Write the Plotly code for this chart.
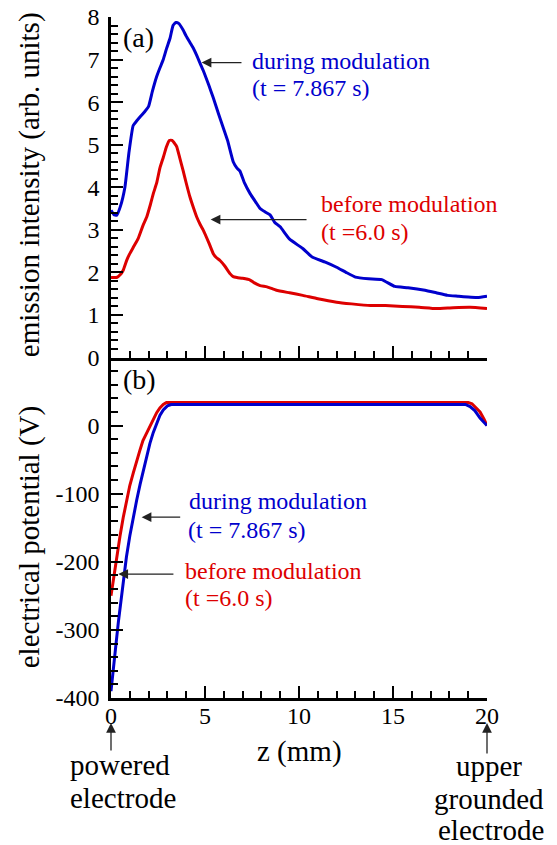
import plotly.graph_objects as go

# ---------------- data ----------------
# (a) emission intensity vs z (mm)
z_int_during = [0.0, 0.15, 0.3, 0.5, 0.74, 0.95, 1.18, 1.35, 1.54, 1.8, 2.0, 2.2, 2.43, 2.6, 2.78,
                2.95, 3.14, 3.3, 3.45, 3.6, 3.83, 4.0, 4.2, 4.4, 4.56, 4.7, 4.9, 5.2, 5.44, 5.7,
                5.97, 6.2, 6.5, 6.7, 6.86, 7.1, 7.4, 7.7, 7.93, 8.2, 8.46, 8.7, 9.0, 9.5, 10.2,
                10.7, 11.4, 12.0, 12.5, 13.0, 13.7, 14.4, 15.1, 15.8, 16.7, 17.3, 17.9, 18.5,
                19.0, 19.5, 20.0]
int_during = [3.46, 3.36, 3.34, 3.55, 4.0, 4.8, 5.45, 5.55, 5.65, 5.78, 5.9, 6.25, 6.6, 6.8, 7.0,
              7.25, 7.5, 7.8, 7.87, 7.85, 7.7, 7.55, 7.4, 7.25, 7.1, 6.95, 6.75, 6.4, 6.1, 5.75,
              5.4, 5.1, 4.6, 4.45, 4.38, 4.1, 3.85, 3.65, 3.5, 3.42, 3.35, 3.18, 3.07, 2.78, 2.56,
              2.36, 2.24, 2.12, 2.0, 1.89, 1.85, 1.83, 1.67, 1.64, 1.58, 1.52, 1.46, 1.44,
              1.42, 1.41, 1.44]

z_int_before = [0.0, 0.3, 0.5, 0.65, 0.85, 1.0, 1.2, 1.45, 1.7, 1.9, 2.1, 2.25, 2.43, 2.6, 2.78,
                2.95, 3.1, 3.25, 3.4, 3.5, 3.65, 3.83, 4.0, 4.2, 4.4, 4.56, 4.75, 4.9, 5.2, 5.44,
                5.6, 5.8, 6.05, 6.33, 6.5, 6.7, 7.0, 7.4, 7.6, 7.93, 8.3, 8.8, 9.5, 10.2, 11.0,
                12.0, 12.8, 13.8, 14.6, 15.5, 16.4, 17.3, 18.2, 19.1, 20.0]
int_before = [1.88, 1.88, 1.95, 2.05, 2.3, 2.44, 2.6, 2.8, 3.1, 3.3, 3.6, 3.85, 4.1, 4.45, 4.7,
              4.95, 5.1, 5.1, 5.02, 4.95, 4.7, 4.4, 4.1, 3.77, 3.5, 3.3, 3.12, 3.0, 2.7, 2.44,
              2.35, 2.28, 2.15, 1.97, 1.9, 1.88, 1.86, 1.82, 1.76, 1.69, 1.66, 1.58, 1.52, 1.46, 1.38,
              1.30, 1.26, 1.22, 1.22, 1.2, 1.18, 1.15, 1.17, 1.18, 1.15]

# (b) electrical potential vs z (mm)
z_pot_during = [0.0, 0.12, 0.25, 0.39, 0.52, 0.65, 0.82, 1.0, 1.18, 1.37, 1.55, 1.72, 1.9, 2.07,
                2.25, 2.43, 2.6, 2.78, 3.0, 3.2, 10.0, 18.85, 19.1, 19.35, 19.63, 19.85, 20.0]
pot_during = [-390, -362, -325, -289, -257, -226, -193, -162, -134, -109, -86, -65, -45, -26,
              -10, 4, 15, 23, 29, 31, 31, 31, 28, 22, 11, 5, 0]

z_pot_before = [0.0, 0.1, 0.21, 0.35, 0.48, 0.65, 0.83, 1.0, 1.19, 1.35, 1.54, 1.7, 1.9, 2.07,
                2.26, 2.43, 2.6, 2.78, 2.95, 10.0, 19.0, 19.2, 19.4, 19.63, 19.85, 20.0]
pot_before = [-250, -230, -211, -186, -162, -135, -109, -88, -69, -52, -36, -22, -11, 0,
              11, 19, 26, 31, 34, 34, 34, 32, 27, 20, 9, 0]

x_ticks = [0, 5, 10, 15, 20]
int_ticks = [0, 1, 2, 3, 4, 5, 6, 7, 8]
pot_ticks = [-400, -300, -200, -100, 0, 100]
pot_ticktext = ["-400", "-300", "-200", "-100", "0", ""]

BLUE = "#0000cc"
RED = "#dd0000"
FONT = "Liberation Serif"

fig = go.Figure()
fig.add_trace(go.Scatter(x=z_int_before, y=int_before, mode="lines", xaxis="x", yaxis="y",
                         line=dict(color=RED, width=3, shape="spline", smoothing=0.4), showlegend=False))
fig.add_trace(go.Scatter(x=z_int_during, y=int_during, mode="lines", xaxis="x", yaxis="y",
                         line=dict(color=BLUE, width=3, shape="spline", smoothing=0.4), showlegend=False))
fig.add_trace(go.Scatter(x=z_pot_before, y=pot_before, mode="lines", xaxis="x2", yaxis="y2",
                         line=dict(color=RED, width=3), showlegend=False))
fig.add_trace(go.Scatter(x=z_pot_during, y=pot_during, mode="lines", xaxis="x2", yaxis="y2",
                         line=dict(color=BLUE, width=3), showlegend=False))

base = dict(showline=True, linecolor="black", linewidth=2.5,
            ticks="inside", ticklen=12, tickwidth=2, tickcolor="black",
            showgrid=False, zeroline=False, automargin=False,
            tickfont=dict(family=FONT, size=24, color="black"))


def minor(dt):
    return dict(tickmode="linear", dtick=dt, tick0=0, ticks="inside", ticklen=7, tickwidth=2,
                tickcolor="black", showgrid=False)


TOP = [0.5, 1]
BOT = [0, 0.5]
fig.update_layout(
    width=557, height=845,
    margin=dict(l=111, r=70, t=17, b=147, autoexpand=False),
    paper_bgcolor="white", plot_bgcolor="white",
    font=dict(family=FONT, size=24, color="black"),
    # panel (a)
    xaxis=dict(domain=[0, 1], range=[0, 20], anchor="y", side="bottom", tickvals=x_ticks,
               showticklabels=False, minor=minor(1), **base),
    xaxis3=dict(domain=[0, 1], range=[0, 20], anchor="y", overlaying="x", side="top",
                tickvals=x_ticks, showticklabels=False, minor=minor(1), **base),
    yaxis=dict(domain=TOP, range=[0, 8], anchor="x", side="left", tickvals=int_ticks,
               ticklabelstandoff=4, minor=minor(0.2), **base),
    yaxis3=dict(domain=TOP, range=[0, 8], anchor="x", overlaying="y", side="right",
                tickvals=int_ticks, showticklabels=False, minor=minor(0.2), **base),
    # panel (b)
    xaxis2=dict(domain=[0, 1], range=[0, 20], anchor="y2", side="bottom", tickvals=x_ticks,
                ticklabelstandoff=-6, minor=minor(1), **base),
    xaxis4=dict(domain=[0, 1], range=[0, 20], anchor="y2", overlaying="x2", side="top",
                tickvals=x_ticks, showticklabels=False, minor=minor(1), **base),
    yaxis2=dict(domain=BOT, range=[-400, 100], anchor="x2", side="left", tickvals=pot_ticks,
                ticktext=pot_ticktext, ticklabelstandoff=4, minor=minor(20), **base),
    yaxis4=dict(domain=BOT, range=[-400, 100], anchor="x2", overlaying="y2", side="right",
                tickvals=pot_ticks, showticklabels=False, minor=minor(20), **base),
)

ann = []


def txt(text, x, y, xref, yref, color="black", size=24, xanchor="left", **kw):
    ann.append(dict(text=text, x=x, y=y, xref=xref, yref=yref, showarrow=False,
                    xanchor=xanchor, yanchor="middle",
                    font=dict(family=FONT, size=size, color=color), **kw))


def arrow(x, y, ax, ay, xref, yref):
    ann.append(dict(text="", x=x, y=y, ax=ax, ay=ay, xref=xref, yref=yref,
                    axref=xref, ayref=yref, showarrow=True, arrowhead=2,
                    arrowsize=1.5, arrowwidth=1.3, arrowcolor="#222"))


# panel (a)
txt("(a)", 0.55, 7.52, "x", "y", size=28)
txt("during modulation", 7.39, 6.96, "x", "y", color=BLUE)
txt("(t = 7.867 s)", 7.39, 6.33, "x", "y", color=BLUE)
arrow(4.82, 6.93, 7.02, 6.93, "x", "y")
txt("before modulation", 11.06, 3.6, "x", "y", color=RED)
txt("(t =6.0 s)", 11.06, 2.94, "x", "y", color=RED)
arrow(5.30, 3.24, 10.48, 3.24, "x", "y")

# panel (b)
txt("(b)", 0.55, 68, "x2", "y2", size=28)
txt("during modulation", 4.03, -110, "x2", "y2", color=BLUE)
txt("(t = 7.867 s)", 3.98, -153, "x2", "y2", color=BLUE)
arrow(1.63, -134.5, 3.76, -134.5, "x2", "y2")
txt("before modulation", 3.81, -214, "x2", "y2", color=RED)
txt("(t =6.0 s)", 3.81, -253, "x2", "y2", color=RED)
arrow(0.39, -218, 3.4, -218, "x2", "y2")

# axis titles
txt("emission intensity (arb. units)", 0, 0.753, "paper", "paper", size=29, xanchor="center",
    xshift=-82, textangle=-90)
txt("electrical potential (V)", 0, 0.236, "paper", "paper", size=29, xanchor="center",
    xshift=-82, textangle=-90)
txt("z (mm)", 0.5, 0, "paper", "paper", size=29, xanchor="center", yshift=-53)

# electrode labels
txt("powered", 0, 0, "paper", "paper", size=29, xshift=-43, yshift=-67)
txt("electrode", 0, 0, "paper", "paper", size=29, xshift=-43, yshift=-100)
txt("upper", 1, 0, "paper", "paper", size=29, xanchor="center", xshift=1.5, yshift=-68)
txt("grounded", 1, 0, "paper", "paper", size=29, xanchor="center", xshift=2, yshift=-101)
txt("electrode", 1, 0, "paper", "paper", size=29, xanchor="center", xshift=4, yshift=-132)

for xx, tail in [(0, 29), (20, 32)]:
    ann.append(dict(text="", x=xx, y=0, xref="x2", yref="paper", yshift=-25,
                    ax=0, ay=tail, showarrow=True, arrowhead=2, arrowsize=1.5,
                    arrowwidth=1.3, arrowcolor="#222"))

fig.update_layout(annotations=ann)
fig.write_html("out.html", config={"displayModeBar": False},
               post_script="document.body.style.margin='0px';document.body.style.overflow='hidden';")
